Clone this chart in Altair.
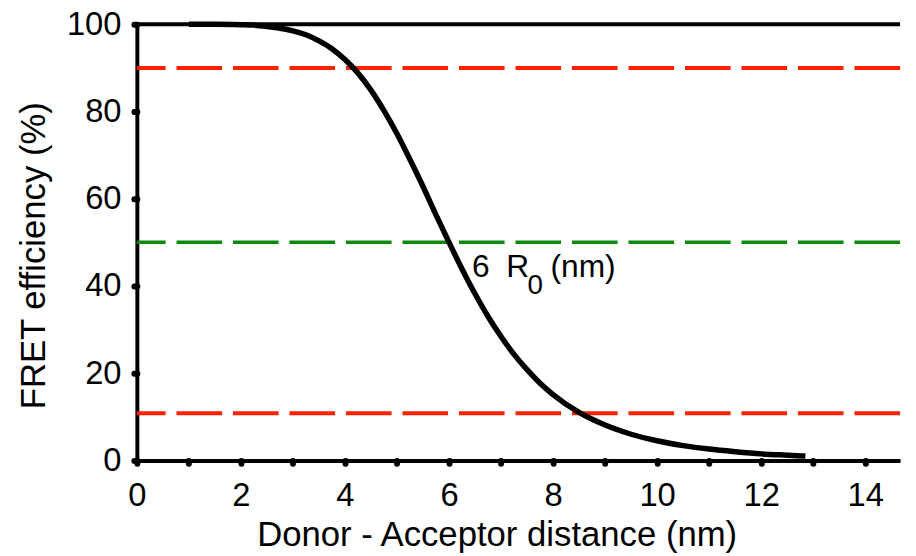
import altair as alt
import pandas as pd

# ---- data ----
distance_nm = [1.0, 1.5, 2.0, 2.25, 2.5, 2.75, 3.0, 3.25, 3.5, 3.75, 4.0, 4.25, 4.5,
               4.75, 5.0, 5.25, 5.5, 5.75, 6.0, 6.25, 6.5, 6.75, 7.0, 7.25, 7.5,
               7.75, 8.0, 8.5, 9.0, 9.5, 10.0, 10.5, 11.0, 11.5, 12.0, 12.5, 12.85]
efficiency_pct = [100.0, 100.0, 99.9, 99.8, 99.5, 99.1, 98.5, 97.6, 96.2, 94.4, 91.9,
                  88.8, 84.9, 80.2, 74.9, 69.0, 62.8, 56.3, 50.0, 43.9, 38.2, 33.0,
                  28.4, 24.3, 20.8, 17.7, 15.1, 11.0, 8.1, 6.0, 4.5, 3.4, 2.6, 2.0,
                  1.5, 1.2, 1.0]

red_levels = [90.0, 10.8]
green_levels = [50.0]
top_level = [100.0]

x_ticks = list(range(0, 15))
y_ticks = [0, 20, 40, 60, 80, 100]
x_max = 14.67

label_parts = ["6", "R", "(nm)"]
label_x = [6.44, 7.10, 7.95]
label_y = [42.0, 42.0, 42.0]
sub_parts = ["0"]
sub_x = [7.51]
sub_y = [38.1]

FONT = "Liberation Sans"

curve_df = pd.DataFrame({"d": distance_nm, "e": efficiency_pct})
red_df = pd.DataFrame({"v": red_levels})
green_df = pd.DataFrame({"v": green_levels})
top_df = pd.DataFrame({"v": top_level})
lab_df = pd.DataFrame({"t": label_parts, "x": label_x, "y": label_y})
sub_df = pd.DataFrame({"t": sub_parts, "x": sub_x, "y": sub_y})

xscale = alt.Scale(domain=[0, x_max], nice=False, zero=False)
yscale = alt.Scale(domain=[0, 100], nice=False)

x_axis = alt.Axis(
    values=x_ticks,
    labelExpr="datum.value % 2 === 0 ? datum.label : ''",
    title="Donor - Acceptor distance (nm)",
    titleX=363, titleY=86, titleBaseline="alphabetic", titleAlign="center",
    grid=False, domainColor="black", domainWidth=4,
    tickColor="black", tickWidth=6, tickSize=3, tickCap="round",
    labelFontSize=33, labelPadding=16, labelFont=FONT, labelColor="black",
    titleFontSize=35, titleFont=FONT, titleFontWeight="normal", titleColor="black",
    labelFlush=False, labelOverlap=False,
)
y_axis = alt.Axis(
    values=y_ticks,
    title="FRET efficiency (%)",
    titleX=-93, titleY=233, titleBaseline="alphabetic", titleAlign="center", titleAngle=-90,
    grid=False, domainColor="black", domainWidth=4,
    tickColor="black", tickWidth=6, tickSize=3, tickCap="round",
    labelFontSize=33, labelPadding=13, labelFont=FONT, labelColor="black",
    titleFontSize=35, titleFont=FONT, titleFontWeight="normal", titleColor="black",
    labelFlush=False, labelOverlap=False,
)

red = alt.Chart(red_df).mark_rule(color="#ff2200", strokeWidth=4, strokeDash=[46, 11]).encode(
    y=alt.Y("v:Q", scale=yscale, axis=y_axis)
)
green = alt.Chart(green_df).mark_rule(color="#0a8a0a", strokeWidth=3.5, strokeDash=[46, 11]).encode(
    y=alt.Y("v:Q", scale=yscale)
)
top = alt.Chart(top_df).mark_rule(color="black", strokeWidth=4).encode(
    y=alt.Y("v:Q", scale=yscale)
)
curve = alt.Chart(curve_df).mark_line(color="black", strokeWidth=5.5, interpolate="monotone").encode(
    x=alt.X("d:Q", scale=xscale, axis=x_axis),
    y=alt.Y("e:Q", scale=yscale, axis=y_axis),
)
labels = alt.Chart(lab_df).mark_text(align="left", baseline="alphabetic", fontSize=32,
                                     font=FONT, color="black").encode(
    x=alt.X("x:Q", scale=xscale), y=alt.Y("y:Q", scale=yscale), text="t:N"
)
subs = alt.Chart(sub_df).mark_text(align="left", baseline="alphabetic", fontSize=28,
                                   font=FONT, color="black").encode(
    x=alt.X("x:Q", scale=xscale), y=alt.Y("y:Q", scale=yscale), text="t:N"
)

chart = alt.layer(red, green, top, curve, labels, subs).properties(
    width=770, height=440,
    autosize=alt.AutoSizeParams(type="none"),
    padding={"left": 130, "top": 14, "right": 8, "bottom": 92},
    background="white",
).configure_view(stroke=None)

chart.save("out.html", embed_options={"renderer": "svg", "actions": False})
